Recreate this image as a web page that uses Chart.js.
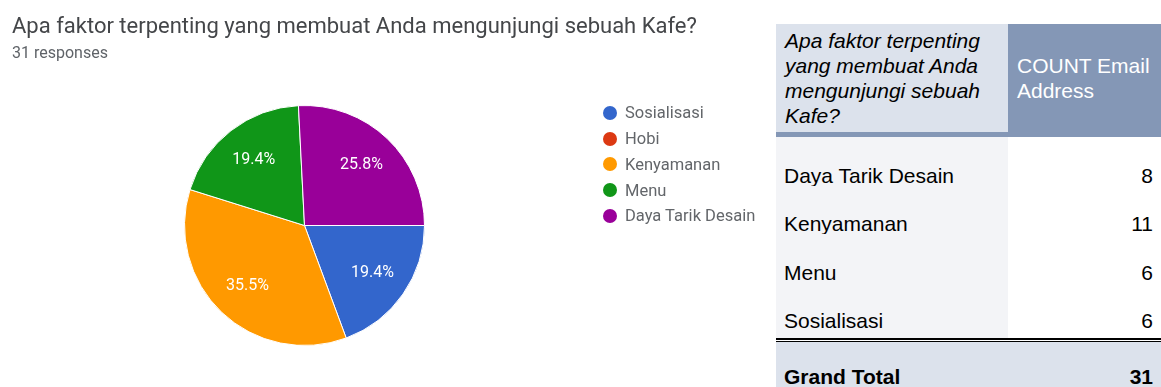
<!DOCTYPE html>
<html>
<head>
<meta charset="utf-8">
<script src="https://cdn.jsdelivr.net/npm/chart.js"></script>
<style>
  html, body { margin: 0; padding: 0; background: #fff; }
  body { width: 1161px; height: 387px; position: relative; overflow: hidden; }

  /* form summary side (soft, like the exported screenshot) */
  #formPanel { position: absolute; left: 0; top: 0; width: 770px; height: 387px;
               font-family: Roboto, "Noto Sans", Arial, sans-serif; filter: blur(0.6px); }
  #title { position: absolute; left: 12px; top: 12px; font-size: 22px; line-height: 28px;
           color: #444649; white-space: nowrap; }
  #count { position: absolute; left: 12px; top: 43px; font-size: 16px; line-height: 20px; color: #5f6368; }
  #pieBox { position: absolute; left: 184px; top: 105px; width: 241px; height: 241px; }
  #legend { position: absolute; left: 603px; top: 100px; margin: 0; padding: 0; list-style: none; }
  #legend li { height: 25.75px; display: flex; align-items: center; font-size: 16.5px;
               color: #63666a; white-space: nowrap; }
  #legend li span { width: 14px; height: 14px; border-radius: 50%; margin-right: 8px; flex: none; }

  /* pivot table */
  #pivot { position: absolute; left: 776px; top: 24px; width: 385px; display: grid;
           grid-template-columns: 232px 153px; font-family: "Liberation Sans", Arial, sans-serif;
           font-size: 21px; color: #000; }
  #pivot div { box-sizing: border-box; }
  .hd { height: 108px; display: flex; align-items: center; line-height: 25px; }
  .hd.q { background: #dce2ec; font-style: italic; padding: 0 6px 0 9px; }
  .hd.n { background: #8497b6; color: #fff; padding: 0 4px 0 9px; }
  .bar { grid-column: 1 / 3; height: 5px; background: #8497b6; }
  .row { height: 48.5px; display: flex; align-items: flex-end; line-height: 21px; }
  .row.name { background: #f3f4f7; padding-left: 8px; }
  .row.num { background: #fff; justify-content: flex-end; padding-right: 8px; }
  .gap.name { height: 7px; background: #f3f4f7; }
  .gap.num { height: 7px; background: #fff; }
  .dbl { grid-column: 1 / 3; height: 4px; border-top: 2px solid #000; border-bottom: 1px solid #000; background: #fff; }
  .tot { height: 60px; background: #dce2ec; font-weight: bold; padding-top: 24px; line-height: 21px; display: flex; }
  .tot.name { padding-left: 8px; }
  .tot.num { justify-content: flex-end; padding-right: 8px; }
</style>
</head>
<body>
<div id="formPanel">
  <div id="title"></div>
  <div id="count"></div>
  <div id="pieBox"><canvas id="pieChart"></canvas></div>
  <ul id="legend"></ul>
</div>
<div id="pivot"></div>

<script>
const question = 'Apa faktor terpenting yang membuat Anda mengunjungi sebuah Kafe?';
const categories = ['Sosialisasi', 'Hobi', 'Kenyamanan', 'Menu', 'Daya Tarik Desain'];
const responses = [6, 0, 11, 6, 8];
const countHeader = 'COUNT Email Address';

const total = responses.reduce((a, b) => a + b, 0);

document.getElementById('title').textContent = question;
document.getElementById('count').textContent = total + ' responses';

// percentage text in the middle of each slice
const sliceLabels = {
    id: 'sliceLabels',
    afterDatasetsDraw(chart) {
        const ctx = chart.ctx;
        const meta = chart.getDatasetMeta(0);
        ctx.save();
        ctx.font = '16px Roboto';
        ctx.fillStyle = '#ffffff';
        ctx.textAlign = 'center';
        ctx.textBaseline = 'middle';
        meta.data.forEach((arc, i) => {
            const v = responses[i];
            if (!v) return;
            const p = arc.getProps(['x', 'y', 'startAngle', 'endAngle', 'outerRadius'], true);
            const mid = (p.startAngle + p.endAngle) / 2;
            const r = p.outerRadius * 0.69;
            ctx.fillText((v / total * 100).toFixed(1) + '%', p.x + Math.cos(mid) * r, p.y + Math.sin(mid) * r);
        });
        ctx.restore();
    }
};

// Pie Chart - responses
const pieCtx = document.getElementById('pieChart');
const pie = new Chart(pieCtx, {
    type: 'pie',
    data: {
        labels: categories,
        datasets: [{
            label: 'Responses',
            data: responses,
            backgroundColor: ['#3366cc', '#dc3912', '#ff9900', '#109618', '#990099'],
            borderColor: '#ffffff',
            borderWidth: 1
        }]
    },
    options: {
        responsive: true,
        maintainAspectRatio: false,
        animation: false,
        events: [],
        rotation: 90,
        layout: { padding: 0 },
        plugins: {
            legend: { display: false },
            tooltip: { enabled: false }
        }
    },
    plugins: [sliceLabels]
});

// legend list next to the pie
const legendEl = document.getElementById('legend');
pie.data.labels.forEach((label, i) => {
    const li = document.createElement('li');
    const dot = document.createElement('span');
    dot.style.background = pie.data.datasets[0].backgroundColor[i];
    li.appendChild(dot);
    li.appendChild(document.createTextNode(label));
    legendEl.appendChild(li);
});

// pivot table: non-empty answers sorted by name
const pivot = document.getElementById('pivot');
function cell(cls, text) {
    const d = document.createElement('div');
    d.className = cls;
    d.textContent = text;
    pivot.appendChild(d);
}
cell('hd q', question);
cell('hd n', countHeader);
cell('bar', '');
const rows = categories
    .map((c, i) => [c, responses[i]])
    .filter(r => r[1] > 0)
    .sort((a, b) => a[0].localeCompare(b[0]));
rows.forEach(r => {
    cell('row name', r[0]);
    cell('row num', r[1]);
});
cell('gap name', '');
cell('gap num', '');
cell('dbl', '');
cell('tot name', 'Grand Total');
cell('tot num', total);
</script>
</body>
</html>
